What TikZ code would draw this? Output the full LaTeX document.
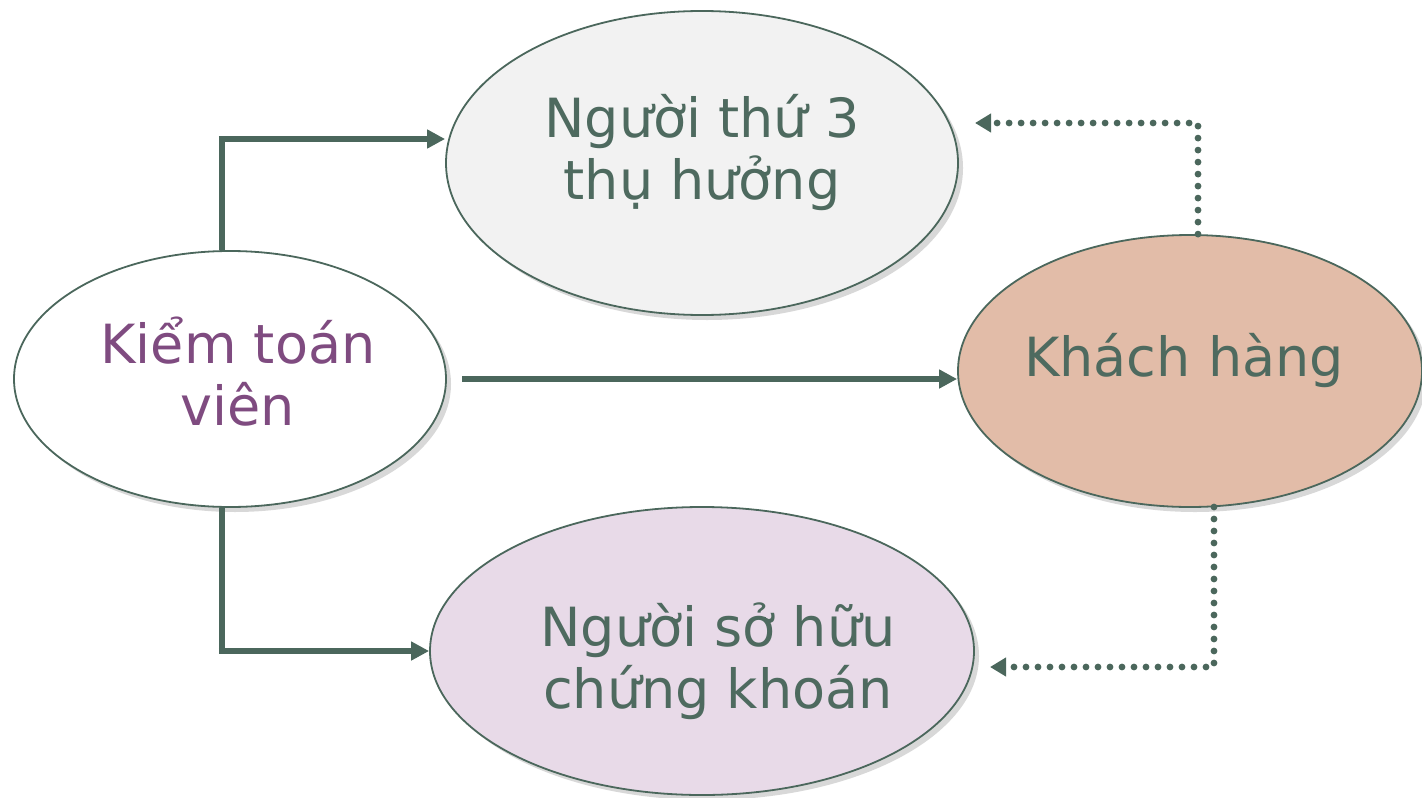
\documentclass[tikz,border=0pt]{standalone}
\usepackage{fontspec}
\setmainfont{DejaVu Sans}
\usetikzlibrary{arrows.meta,shapes.geometric}
\definecolor{edgec}{HTML}{4B675C}
\definecolor{txtc}{HTML}{4E6A5F}
\definecolor{purp}{HTML}{7F4B80}
\definecolor{fillA}{HTML}{F2F2F2}
\definecolor{fillK}{HTML}{E2BCA8}
\definecolor{fillS}{HTML}{E8DAE8}
\definecolor{shad}{HTML}{D8D8D8}
\tikzset{
  oval/.style={ellipse, draw=edgec, line width=0.9pt, inner sep=0pt},
  lbl/.style={font=\fontsize{27}{31}\selectfont, align=center, text=txtc, inner sep=0pt},
  solidarrow/.style={draw=edgec, line width=3.2pt, -{Triangle[length=9pt,width=9pt]}},
  solidline/.style={draw=edgec, line width=3.2pt},
  dotline/.style={draw=edgec, line width=3.4pt, line cap=round, dash pattern=on 0pt off 6pt},
  dotarrow/.style={dotline, -{Triangle[length=8pt,width=9pt]}},
}
\begin{document}
\begin{tikzpicture}[x=0.5pt,y=-0.5pt]
\useasboundingbox (0,0) rectangle (1422,797);
% shadows
\fill[shad] (707,168) ellipse [x radius=256, y radius=152];
\fill[shad] (235,384) ellipse [x radius=216, y radius=128];
\fill[shad] (1195,376) ellipse [x radius=232, y radius=136];
\fill[shad] (707,656) ellipse [x radius=272, y radius=144];
% ellipses
\node[oval, fill=fillA, minimum width=256pt, minimum height=152pt] (third) at (702,163) {};
\node[oval, fill=white, minimum width=216pt, minimum height=128pt] (auditor) at (230,379) {};
\node[oval, fill=fillK, minimum width=232pt, minimum height=136pt] (client) at (1190,371) {};
\node[oval, fill=fillS, minimum width=272pt, minimum height=144pt] (holder) at (702,651) {};
% texts
\node[lbl] (t1) at (702,153) {Người thứ 3\\thụ hưởng};
\node[lbl, text=purp] (t2) at (238,372) {Kiểm toán\\viên};
\node[lbl] (t3) at (1184,361) {Khách hàng};
\node[lbl] (t4) at (718,661) {Người sở hữu\\chứng khoán};
% coordinates
\coordinate (c1) at (222,139);
\coordinate (c2) at (222,651);
\coordinate (s3) at (462,379);
\coordinate (d1) at (1198,123);
\coordinate (d1e) at (975,123);
\coordinate (d2) at (1214,667);
\coordinate (d2e) at (990,667);
% solid connectors
\draw[solidline] (auditor.north -| c1) -- (c1);
\draw[solidarrow] ([xshift=-1.6pt]c1) -- (third.west |- c1);
\draw[solidline] (auditor.south -| c2) -- (c2);
\draw[solidarrow] ([xshift=-1.6pt]c2) -- (holder.west |- c2);
\draw[solidarrow] (s3) -- (client.west |- s3);
% dotted connectors
\draw[dotarrow] (client.north -| d1) -- (d1) -- (d1e);
\draw[dotarrow] (1214,507) -- (d2) -- (d2e);
\end{tikzpicture}
\end{document}
